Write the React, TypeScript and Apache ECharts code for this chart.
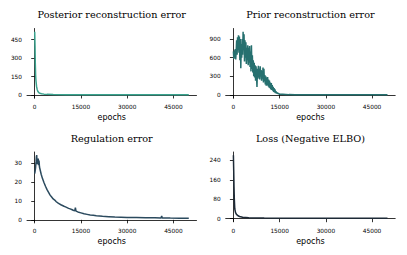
import React, { useEffect, useRef } from "react";
import * as echarts from "echarts";

const xTicks = [0, 15000, 30000, 45000];

const postEpochs = [0, 100, 200, 300, 400, 600, 800, 1000, 1300, 1700, 2200, 3000, 4000, 6000, 10000, 20000, 30000, 40000, 50000];
const postValues = [515, 400, 250, 160, 120, 70, 45, 30, 20, 14, 10, 7, 5, 3.5, 2.5, 2, 1.5, 1.3, 1.2];
const postTicks = [0, 150, 300, 450];

const priorEpochs = [
  0, 150, 300, 450, 600, 750, 900, 1050, 1200, 1350, 1500, 1650, 1800, 1950, 2100, 2250, 2400, 2550, 2700, 2850,
  3000, 3150, 3300, 3450, 3600, 3750, 3900, 4050, 4200, 4350, 4500, 4650, 4800, 4950, 5100, 5250, 5400, 5550, 5700, 5850,
  6000, 6150, 6300, 6450, 6600, 6750, 6900, 7050, 7200, 7350, 7500, 7650, 7800, 7950, 8100, 8250, 8400, 8550, 8700, 8850,
  9000, 9150, 9300, 9450, 9600, 9750, 9900, 10050, 10200, 10350, 10500, 10650, 10800, 10950, 11100, 11250, 11400, 11550, 11700, 11850,
  12000, 12150, 12300, 12450, 12600, 12750, 12900, 13050, 13200, 13350, 13500, 13650, 13800, 13950, 14100, 14250, 14400, 14550, 14700, 14850,
  15000, 16000, 17000, 18000, 20000, 25000, 30000, 40000, 50000,
];
const priorValues = [
  700, 580, 720, 600, 740, 570, 700, 880, 650, 930, 720, 960, 680, 940, 560, 900, 430, 820, 600, 900,
  650, 1020, 720, 980, 540, 880, 600, 850, 500, 760, 560, 800, 480, 760, 520, 790, 450, 700, 380, 800,
  420, 640, 360, 560, 300, 520, 280, 480, 230, 460, 300, 130, 420, 260, 470, 280, 420, 250, 460, 300,
  400, 230, 380, 260, 440, 200, 420, 230, 320, 170, 300, 150, 280, 160, 290, 140, 250, 120, 230, 110,
  200, 90, 190, 80, 160, 70, 130, 50, 110, 40, 90, 30, 60, 25, 45, 20, 35, 15, 28, 12,
  20, 10, 8, 5, 4, 3, 2, 2, 1.5,
];
const priorTicks = [0, 300, 600, 900];

const regEpochs = [
  0, 150, 300, 450, 550, 650, 750, 850, 950, 1050, 1150, 1250, 1400, 1550, 1800, 2100, 2500, 3000, 3500, 4000,
  4500, 5000, 5500, 6000, 6500, 7000, 7500, 8000, 8500, 9000, 9500, 10000, 10500, 11000, 11500, 12000, 12500, 13000, 13200, 13400,
  14000, 15000, 16000, 17000, 18000, 19000, 20000, 22000, 24000, 26000, 28000, 30000, 33000, 36000, 39000, 41000, 41200, 41400, 44000, 47000, 50000,
];
const regValues = [
  24.5, 26, 28, 31, 33.5, 34.3, 31, 29.5, 32, 30, 32.5, 29, 31.5, 28, 26.3, 24.2, 22, 19.8, 17.8, 16.0,
  14.6, 13.1, 12.1, 11.1, 10.5, 9.6, 9.0, 8.5, 8.0, 7.6, 7.2, 6.9, 6.5, 6.1, 5.8, 5.5, 5.1, 4.8, 6.5, 4.6,
  4.2, 3.7, 3.2, 2.9, 2.6, 2.4, 2.2, 1.9, 1.7, 1.5, 1.4, 1.3, 1.2, 1.1, 1.05, 1.0, 2.0, 1.0, 0.95, 0.9, 0.8,
];
const regTicks = [0, 10, 20, 30];

const lossEpochs = [0, 100, 200, 300, 450, 700, 1000, 1500, 2000, 3000, 5000, 10000, 20000, 30000, 40000, 50000];
const lossValues = [262, 200, 130, 80, 40, 25, 18, 12, 9, 6, 4, 3, 2, 1.7, 1.6, 1.5];
const lossTicks = [0, 80, 160, 240];

const titles = ["Posterior reconstruction error", "Prior reconstruction error", "Regulation error", "Loss (Negative ELBO)"];
const colors = ["#3aa38e", "#26706f", "#2b4a5e", "#1d2a37"];

export default function App() {
  const ref = useRef<HTMLDivElement>(null);
  useEffect(() => {
    if (!ref.current) return;
    const chart = echarts.init(ref.current, null, { renderer: "svg" });
    const panels = [
      { e: postEpochs, v: postValues, t: postTicks },
      { e: priorEpochs, v: priorValues, t: priorTicks },
      { e: regEpochs, v: regValues, t: regTicks },
      { e: lossEpochs, v: lossValues, t: lossTicks },
    ];
    const W = 169.5;
    const H = 69.5;
    const lefts = [27, 225.7, 27, 225.7];
    const tops = [28.5, 28.5, 152, 152];
    const titleY = [14, 14, 138, 138];
    const font = "DejaVu Sans";
    const grid = panels.map((_, i) => ({ left: lefts[i], top: tops[i], width: W, height: H }));
    const xAxis = panels.map((_, i) => ({
      type: "value",
      gridIndex: i,
      min: -2500,
      max: 52500,
      splitLine: { show: false },
      axisLine: { show: true, lineStyle: { color: "#000", width: 0.8 } },
      axisTick: { show: true, length: 3.5, customValues: xTicks, lineStyle: { color: "#000", width: 0.8 } },
      axisLabel: { customValues: xTicks, fontSize: 5.8, fontFamily: font, color: "#000", margin: 6, formatter: (v: number) => String(v) },
      name: "epochs",
      nameLocation: "middle",
      nameGap: 15.5,
      nameTextStyle: { fontSize: 8, fontFamily: font, color: "#000" },
    }));
    const yAxis = panels.map((p, i) => {
      const mn = Math.min(...p.v);
      const mx = Math.max(...p.v);
      const m = (mx - mn) * 0.05;
      return {
        type: "value",
        gridIndex: i,
        min: mn - m,
        max: mx + m,
        splitLine: { show: false },
        axisLine: { show: true, lineStyle: { color: "#000", width: 0.8 } },
        axisTick: { show: true, length: 3.5, customValues: p.t, lineStyle: { color: "#000", width: 0.8 } },
        axisLabel: { customValues: p.t, fontSize: 5.8, fontFamily: font, color: "#000", margin: 5, formatter: (v: number) => String(v) },
      };
    });
    const series = panels.map((p, i) => ({
      type: "line",
      xAxisIndex: i,
      yAxisIndex: i,
      showSymbol: false,
      symbol: "none",
      lineStyle: { color: colors[i], width: 1.5 },
      data: p.e.map((e, j) => [e, p.v[j]]),
    }));
    const graphic = titles.map((t, i) => ({
      type: "text",
      x: lefts[i] + W / 2,
      y: titleY[i],
      style: {
        text: t,
        textAlign: "center",
        textVerticalAlign: "middle",
        fontSize: 9.7,
        fontFamily: "DejaVu Serif",
        fill: "#000",
      },
    }));
    chart.setOption({
      animation: false,
      backgroundColor: "#fff",
      grid,
      xAxis,
      yAxis,
      series,
      graphic,
    } as any);
    return () => chart.dispose();
  }, []);
  return <div ref={ref} style={{ position: "absolute", left: 0, top: 0, width: 407, height: 255 }} />;
}
